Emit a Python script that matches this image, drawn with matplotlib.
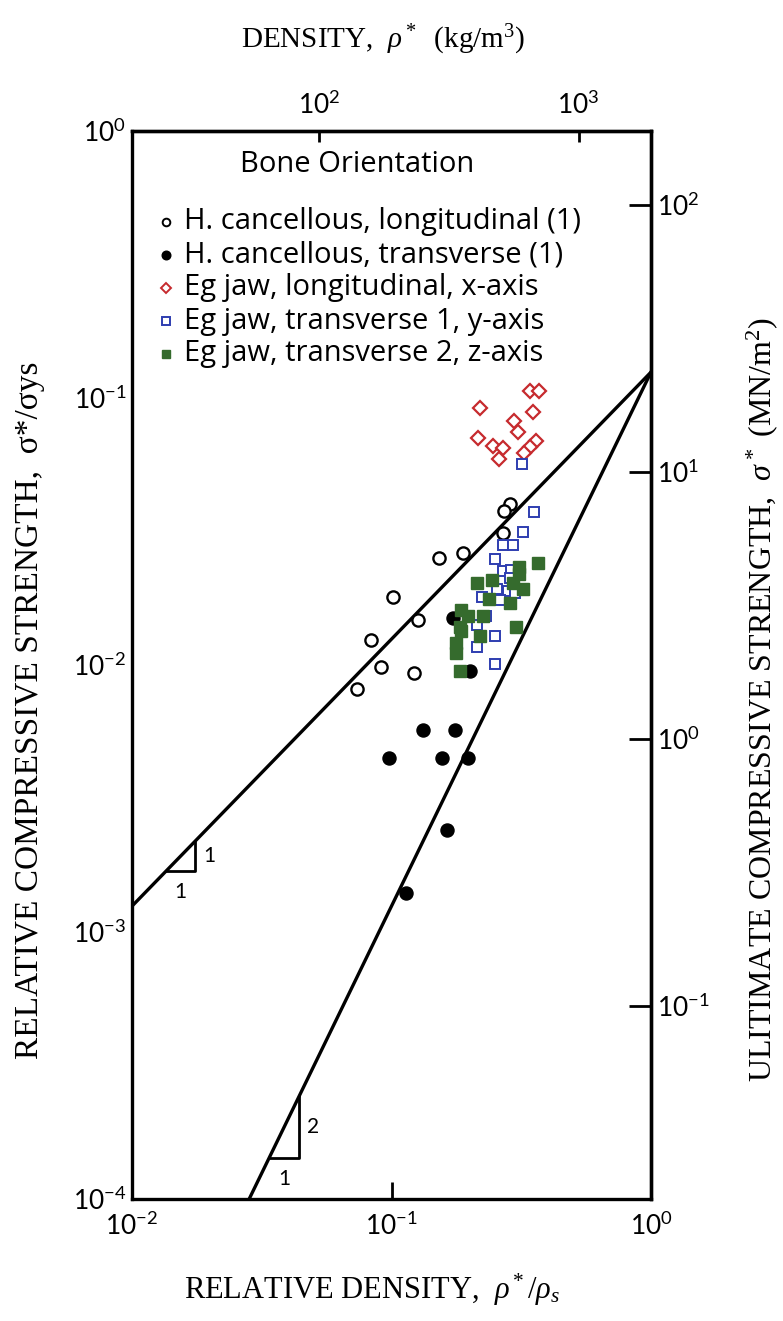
import numpy as np
import matplotlib
matplotlib.use("Agg")
import matplotlib.pyplot as plt
from matplotlib.ticker import NullLocator

plt.rcParams['mathtext.fontset'] = 'custom'
plt.rcParams['mathtext.rm'] = 'Liberation Serif'
plt.rcParams['mathtext.it'] = 'Liberation Serif:italic'
plt.rcParams['mathtext.sf'] = 'Lato'

# scale factors for the secondary axes
RHO_S = 1900.0    # kg/m3, solid bone density
SIG_YS = 190.0    # MN/m2, solid yield strength
FIT_C = 0.125     # prefactor of both guide lines

# H. cancellous, longitudinal (1)
long_x = [0.285, 0.272, 0.270, 0.153, 0.188, 0.101, 0.126, 0.0833, 0.0913, 0.122, 0.0738]
long_y = [0.0400, 0.0378, 0.0313, 0.0252, 0.0262, 0.0179, 0.0147, 0.0124, 0.0098, 0.0093, 0.0081]

# H. cancellous, transverse (1)
trans_x = [0.172, 0.200, 0.132, 0.176, 0.0974, 0.157, 0.198, 0.164, 0.114]
trans_y = [0.0150, 0.0095, 0.0057, 0.0057, 0.0045, 0.0045, 0.0045, 0.0024, 0.0014]

# Eg jaw, longitudinal, x-axis
jawx_x = [0.341, 0.371, 0.220, 0.350, 0.297, 0.306, 0.216, 0.247, 0.270, 0.360, 0.341, 0.325, 0.260]
jawx_y = [0.1064, 0.1064, 0.0915, 0.0889, 0.0822, 0.0744, 0.0707, 0.0661, 0.0648, 0.0690, 0.0657, 0.0624, 0.0589]

# Eg jaw, transverse 1, y-axis
jawy_x = [0.318, 0.355, 0.320, 0.270, 0.294, 0.251, 0.270, 0.289, 0.285, 0.256, 0.280, 0.224, 0.262,
          0.299, 0.231, 0.214, 0.251, 0.214, 0.251]
jawy_y = [0.0566, 0.0375, 0.0314, 0.0281, 0.0281, 0.0249, 0.0224, 0.0227, 0.0211, 0.0192, 0.0190, 0.0180, 0.0175,
          0.0186, 0.0152, 0.0141, 0.0128, 0.0117, 0.0101]

# Eg jaw, transverse 2, z-axis
jawz_x = [0.366, 0.310, 0.310, 0.244, 0.214, 0.294, 0.320, 0.237, 0.287, 0.186, 0.197, 0.226, 0.183,
          0.185, 0.303, 0.220, 0.177, 0.177, 0.183]
jawz_y = [0.0242, 0.0233, 0.0219, 0.0209, 0.0202, 0.0203, 0.0192, 0.0176, 0.0171, 0.0161, 0.0152, 0.0152, 0.0139,
          0.0134, 0.0139, 0.0128, 0.0121, 0.0111, 0.0095]

legend_labels = ['H. cancellous, longitudinal (1)', 'H. cancellous, transverse (1)',
                 'Eg jaw, longitudinal, x-axis', 'Eg jaw, transverse 1, y-axis',
                 'Eg jaw, transverse 2, z-axis']

RED = '#c62a2e'
BLUE = '#2e3db0'
GREEN = '#356b2d'

W, H = 783, 1321
fig = plt.figure(figsize=(W / 100, H / 100), dpi=100)
ax = fig.add_axes([132 / W, 1 - 1199 / H, 519 / W, 1068 / H])
ax.set_xscale('log')
ax.set_yscale('log')
ax.set_xlim(1e-2, 1)
ax.set_ylim(1e-4, 1)

# guide lines, slope 1 and slope 2
xs = np.logspace(-2, 0, 50)
ax.plot(xs, FIT_C * xs, color='black', lw=2.4, zorder=2)
ax.plot(xs, FIT_C * xs ** 2, color='black', lw=2.4, zorder=2)

# slope triangles
def slope_triangle(x0, ratio, n):
    x1 = x0 * ratio
    y0 = FIT_C * x0 ** n
    y1 = FIT_C * x1 ** n
    ax.plot([x0, x1, x1], [y0, y0, y1], color='black', lw=2.0, zorder=2)
    ax.text(x1 * 1.07, np.sqrt(y0 * y1), str(n), fontsize=15, family='Lato', va='center', ha='left')
    ax.text(np.sqrt(x0 * x1), y0 / 1.1, '1', fontsize=15, family='Lato', va='top', ha='center')

slope_triangle(0.0135, 1.3, 1)
slope_triangle(0.0337, 1.31, 2)

ax.plot(long_x, long_y, 'o', ms=8.8, mfc='white', mec='black', mew=1.7, zorder=3)
ax.plot(trans_x, trans_y, 'o', ms=9.4, mfc='black', mec='black', zorder=3)
ax.plot(jawx_x, jawx_y, 'D', ms=6.8, mfc='white', mec=RED, mew=1.6, zorder=3)
ax.plot(jawy_x, jawy_y, 's', ms=6.8, mfc='white', mec=BLUE, mew=1.4, zorder=3)
ax.plot(jawz_x, jawz_y, 's', ms=8.4, mfc=GREEN, mec=GREEN, zorder=4)

# legend drawn by hand, positions in figure pixels
leg_font = {'family': 'Open Sans', 'size': 21}
fig.text(357 / W, 1 - 165 / H, 'Bone Orientation', ha='center', va='center', **leg_font)
leg_styles = [
    dict(marker='o', ms=5.5, mfc='white', mec='black', mew=1.4),
    dict(marker='o', ms=6.2, mfc='black', mec='black'),
    dict(marker='D', ms=4.6, mfc='white', mec=RED, mew=1.4),
    dict(marker='s', ms=5.2, mfc='white', mec=BLUE, mew=1.4),
    dict(marker='s', ms=6.0, mfc=GREEN, mec=GREEN),
]
for i, (lab, st) in enumerate(zip(legend_labels, leg_styles)):
    yy = 1 - (222 + 33 * i) / H
    fig.add_artist(plt.Line2D([166 / W], [yy], ls='none', transform=fig.transFigure, **st))
    fig.text(184 / W, yy, lab, ha='left', va='center', **leg_font)

for s in ax.spines.values():
    s.set_linewidth(2.4)

ax.set_xticks([1e-2, 1e-1, 1], [r'$\mathsf{10^{-2}}$', r'$\mathsf{10^{-1}}$', r'$\mathsf{10^{0}}$'])
ax.set_yticks([1e-4, 1e-3, 1e-2, 1e-1, 1],
              [r'$\mathsf{10^{-4}}$', r'$\mathsf{10^{-3}}$', r'$\mathsf{10^{-2}}$',
               r'$\mathsf{10^{-1}}$', r'$\mathsf{10^{0}}$'])
ax.xaxis.set_minor_locator(NullLocator())
ax.yaxis.set_minor_locator(NullLocator())
ax.tick_params(axis='x', direction='in', length=12, width=2, labelsize=19, pad=10, top=False)
ax.tick_params(axis='y', direction='in', length=0, labelsize=19, pad=4, right=False)

top = ax.secondary_xaxis('top', functions=(lambda x: x * RHO_S, lambda d: d / RHO_S))
top.set_xticks([100, 1000], [r'$\mathsf{10^{2}}$', r'$\mathsf{10^{3}}$'])
top.xaxis.set_minor_locator(NullLocator())
top.tick_params(direction='in', length=8, width=2, labelsize=19, pad=8)
top.spines['top'].set_linewidth(2.4)

right = ax.secondary_yaxis('right', functions=(lambda y: y * SIG_YS, lambda s: s / SIG_YS))
right.set_yticks([0.1, 1, 10, 100],
                 [r'$\mathsf{10^{-1}}$', r'$\mathsf{10^{0}}$', r'$\mathsf{10^{1}}$', r'$\mathsf{10^{2}}$'])
right.yaxis.set_minor_locator(NullLocator())
right.tick_params(direction='in', length=16, width=2, labelsize=19, pad=4)
right.spines['right'].set_linewidth(2.4)

fig.text(383 / W, 1 - 40 / H, r'DENSITY,  $\rho^*$  (kg/m$^3$)', ha='center', va='center',
         family='Liberation Serif', size=21)
fig.text(372 / W, 1 - 1290 / H, r'RELATIVE DENSITY,  $\rho^*/\rho_s$', ha='center', va='center',
         family='Liberation Serif', size=22)
fig.text(30 / W, 1 - 710 / H, 'RELATIVE COMPRESSIVE STRENGTH,  σ*/σys', rotation=90,
         ha='center', va='center', family='Liberation Serif', size=24)
fig.text(762 / W, 1 - 700 / H, r'ULITIMATE COMPRESSIVE STRENGTH,  $\sigma^*$ (MN/m$^2$)', rotation=90,
         ha='center', va='center', family='Liberation Serif', size=23)

fig.savefig('out.png', dpi=100)
